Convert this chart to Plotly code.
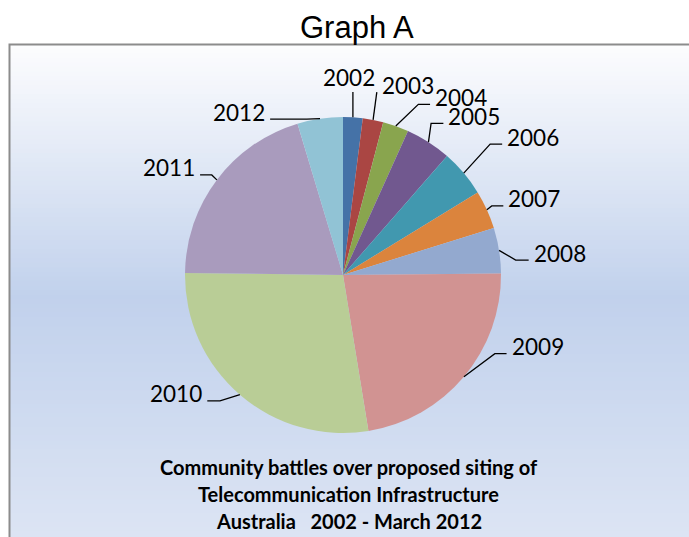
import math
import plotly.graph_objects as go

# ---------------- data ----------------
years = ["2002", "2003", "2004", "2005", "2006", "2007", "2008", "2009", "2010", "2011", "2012"]
battles = [4, 4.2, 5.3, 9.4, 9.6, 7.9, 9.3, 45.2, 55.6, 40.3, 9.3]
slice_colors = ["#4572A7", "#AA4643", "#89A54E", "#71588F", "#4198AF", "#DB843D",
                "#93A9CF", "#D19392", "#B9CD96", "#A99BBD", "#91C3D5"]
chart_title = "Graph A"
caption_lines = ["Community battles over proposed siting of",
                 "Telecommunication Infrastructure",
                 "Australia   2002 - March 2012"]

# ---------------- layout / style ----------------
W, H = 689, 537
CX, CY, R = 343, 275, 158          # pie centre and radius in pixels
# leader line styling per label: radial extension, angular turn (deg), horizontal tail
lead_ext = [25.3, 28, 28.6, 17.4, 39, 6, 15.3, 13, 18, 7, 2]
lead_turn = [-0.5, -0.5, 4.3, -2.6, -1.5, -0.5, 4, -12.7, 3.6, 0.3, -4.7]
lead_tail = [0, 0, 11.7, 12.3, 12, 11.6, 13, 11.7, 12.7, 11.7, 36.7]
label_above = [True] + [False] * 10
LABEL_FONT = dict(family="Lato, Liberation Sans, sans-serif", size=22.5, color="black")


def px(x):
    return x / W


def py(y):
    return 1 - y / H


shapes = []

# gradient background inside the frame
top, mid, bot = 44, 297, 545
c_top, c_mid, c_bot = (253, 253, 254), (193, 209, 236), (221, 229, 244)


def lerp(a, b, t):
    return tuple(round(a[i] + (b[i] - a[i]) * t) for i in range(3))


n = 110
for k in range(n):
    y0 = top + (bot - top) * k / n
    y1 = top + (bot - top) * (k + 1) / n + 0.8
    yc = (y0 + y1) / 2
    if yc <= mid:
        c = lerp(c_top, c_mid, (yc - top) / (mid - top))
    else:
        c = lerp(c_mid, c_bot, (yc - mid) / (bot - mid))
    shapes.append(dict(type="rect", xref="paper", yref="paper", layer="below",
                       x0=px(10), x1=px(W + 5), y0=py(y0), y1=py(y1),
                       fillcolor="rgb(%d,%d,%d)" % c, line=dict(width=0)))
# frame
shapes.append(dict(type="rect", xref="paper", yref="paper", layer="below",
                   x0=px(9.5), x1=px(W + 10), y0=py(44.5), y1=py(H + 10),
                   fillcolor="rgba(0,0,0,0)", line=dict(color="#8c8c8c", width=2)))

annotations = []
total = sum(battles)
cum = 0
for i, (lab, v) in enumerate(zip(years, battles)):
    mid_deg = (cum + v / 2) / total * 360
    cum += v
    a = math.radians(mid_deg)
    ex, ey = CX + R * math.sin(a), CY - R * math.cos(a)
    b = math.radians(mid_deg + lead_turn[i])
    rb = R + lead_ext[i]
    bx, by = CX + rb * math.sin(b), CY - rb * math.cos(b)
    side = 1 if math.sin(a) >= 0 else -1
    tx, ty = bx + side * lead_tail[i], by
    path = "M %f %f L %f %f L %f %f" % (px(ex), py(ey), px(bx), py(by), px(tx), py(ty))
    shapes.append(dict(type="path", xref="paper", yref="paper", path=path,
                       line=dict(color="black", width=1.3)))
    if label_above[i]:
        annotations.append(dict(text=lab, x=px(bx - 4), y=py(by - 14), xref="paper", yref="paper",
                                xanchor="center", yanchor="middle", showarrow=False, font=LABEL_FONT,
                                borderpad=0))
    else:
        annotations.append(dict(text=lab, x=px(tx + side * 4), y=py(ty - 7), xref="paper", yref="paper",
                                xanchor="left" if side > 0 else "right", yanchor="middle",
                                showarrow=False, font=LABEL_FONT, borderpad=0))

annotations.append(dict(text=chart_title, x=px(356.5), y=py(28), xref="paper", yref="paper",
                        xanchor="center", yanchor="middle", showarrow=False,
                        font=dict(family="Liberation Sans, Arial, sans-serif", size=31, color="black")))
for j, line in enumerate(caption_lines):
    annotations.append(dict(text="<b>%s</b>" % line, x=px(349), y=py(467 + 27 * j),
                            xref="paper", yref="paper", xanchor="center", yanchor="middle",
                            showarrow=False,
                            font=dict(family="Lato, Liberation Sans, sans-serif", size=20, color="black")))

fig = go.Figure(go.Pie(
    labels=years, values=battles, sort=False, direction="clockwise", rotation=0,
    marker=dict(colors=slice_colors, line=dict(width=0)),
    textinfo="none", hoverinfo="label+value", showlegend=False,
    domain=dict(x=[px(CX - R), px(CX + R)], y=[py(CY + R), py(CY - R)]),
))
fig.update_layout(width=W, height=H, margin=dict(l=0, r=0, t=0, b=0),
                  paper_bgcolor="white", plot_bgcolor="white",
                  shapes=shapes, annotations=annotations, showlegend=False)
fig.write_html("out.html")
